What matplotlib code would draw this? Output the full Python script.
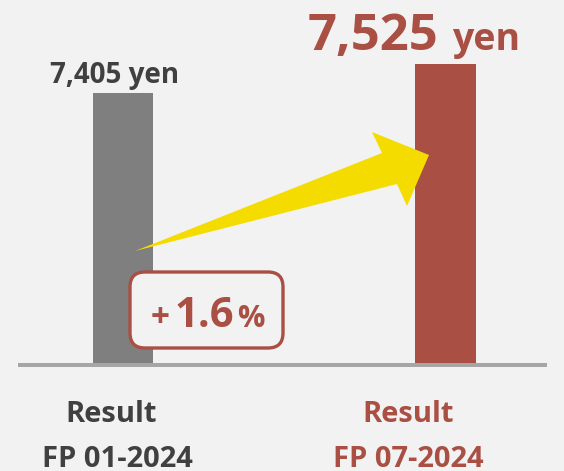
import matplotlib
matplotlib.use('Agg')
import matplotlib.pyplot as plt
from matplotlib.patches import Polygon, FancyBboxPatch

# data
periods = ['FP 01-2024', 'FP 07-2024']
values = [7405, 7525]
value_labels = ['7,405', '7,525']
change_pct = '1.6'
y_base = 6288  # truncated axis start

bg = '#f2f2f2'
gray = '#7f7f7f'
red = '#a94f43'
dark = '#404040'
yellow = '#f5dc00'

plt.rcParams['font.family'] = ['Open Sans', 'DejaVu Sans']

W, H, dpi = 564, 471, 100
fig = plt.figure(figsize=(W / dpi, H / dpi), dpi=dpi, facecolor=bg)
ax = fig.add_axes([0, 0, 1, 1])
ax.set_facecolor(bg)
ax.axis('off')

# scale: 1 category step = 322.3 px, 0.2417 px per yen
px_x, px_y = 322.3, 0.2417
ax.set_xlim(-123 / px_x, 1 + (W - 445.3) / px_x)
ax.set_ylim(y_base - (H - 363) / px_y, y_base + 363 / px_y)

xs = [0, 1]
ax.bar(xs, [v - y_base for v in values], bottom=y_base, width=60.6 / px_x,
       color=[gray, red], zorder=2)
ax.axhline(y_base - 2 / px_y, xmin=20 / W, xmax=545 / W, color='#a6a6a6',
           linewidth=4 * 0.72, zorder=1)


def px(x, y):
    # figure pixel (y down) -> figure fraction
    return (x / W, 1 - y / H)


def label(x, y, s, size, color, ha='center'):
    fig.text(*px(x, y), s, fontsize=size, color=color, ha=ha,
             va='baseline', fontweight='bold', zorder=5)


# growth arrow
arrow_pts = [(135, 251), (382, 153), (372, 132), (429, 155), (407, 206), (397, 184)]
ax.add_patch(Polygon([px(*p) for p in arrow_pts], closed=True,
                     transform=fig.transFigure, facecolor=yellow,
                     edgecolor='none', zorder=3))

# change box
box = FancyBboxPatch((1.30, (H - 348) / dpi), 1.53, 0.76,
                     boxstyle='round,pad=0,rounding_size=0.15',
                     transform=fig.dpi_scale_trans, facecolor=bg,
                     edgecolor=red, linewidth=2.4, zorder=4)
ax.add_patch(box)
label(151, 327, '+', 24, red, ha='left')
label(175, 327, change_pct, 30, red, ha='left')
label(237, 327, '%', 22, red, ha='left')

# value labels
label(115, 83, value_labels[0] + ' yen', 20, dark)
label(438, 50, value_labels[1], 36.5, red, ha='right')
label(452, 50, 'yen', 27, red, ha='left')

# category labels
label(111.5, 422, 'Result', 21, dark)
label(408, 422, 'Result', 21, red)
label(117, 467, periods[0], 21, dark)
label(408, 467, periods[1], 21, red)

fig.savefig('out.png', dpi=dpi, facecolor=bg)
